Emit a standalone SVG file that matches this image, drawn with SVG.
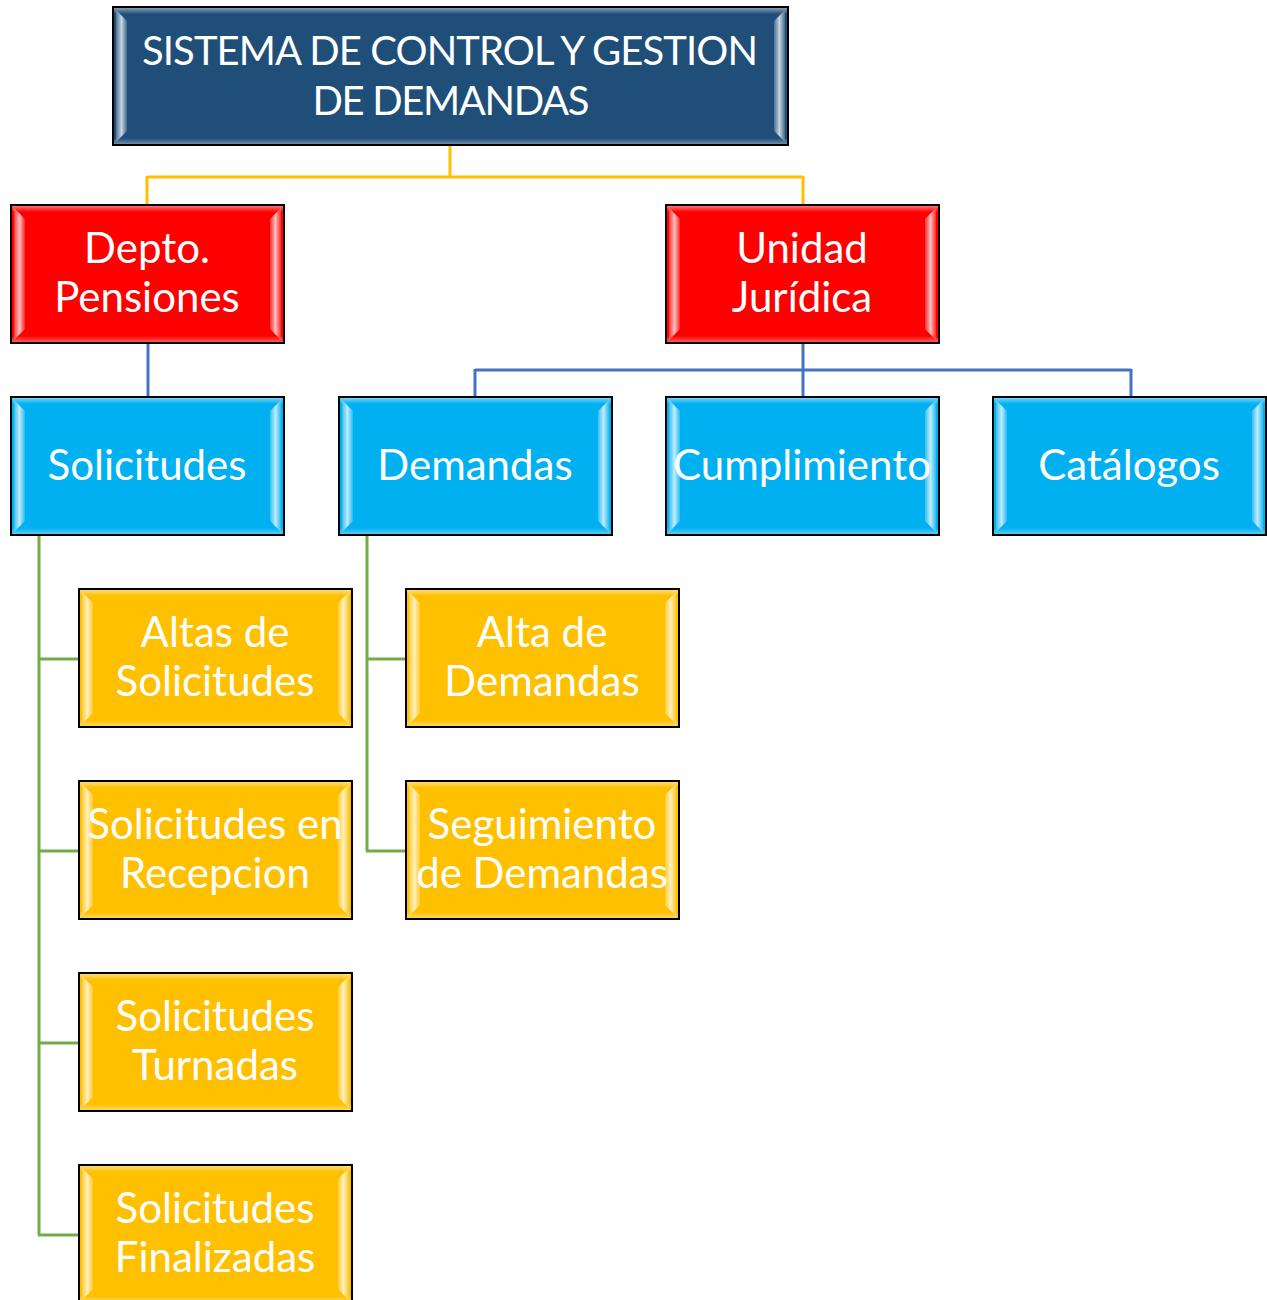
<svg xmlns="http://www.w3.org/2000/svg" width="1267" height="1300" viewBox="0 0 1267 1300">
<style>
.box{stroke:#000;stroke-width:2}
.navy{fill:#1F4E79}.red{fill:#FF0000}.blue{fill:#00B0F0}.yel{fill:#FFC000}
.t{font-family:Lato,"Open Sans","Liberation Sans",sans-serif;font-size:42px;fill:#fff;text-anchor:middle}
.tt{font-size:40px}
.c{fill:none;stroke-width:3}
</style>
<defs>
<linearGradient id="lg" x1="0" x2="1" y1="0" y2="0"><stop offset="0" stop-color="#fff" stop-opacity="0.2"/><stop offset="0.5" stop-color="#fff" stop-opacity="0.75"/><stop offset="1" stop-color="#fff" stop-opacity="0.15"/></linearGradient>
<linearGradient id="tg" x1="0" x2="0" y1="0" y2="1"><stop offset="0" stop-color="#fff" stop-opacity="0.45"/><stop offset="1" stop-color="#fff" stop-opacity="0"/></linearGradient>
<linearGradient id="bg" x1="0" x2="0" y1="0" y2="1"><stop offset="0" stop-color="#fff" stop-opacity="0"/><stop offset="1" stop-color="#fff" stop-opacity="0.35"/></linearGradient>
<g id="bevel">
<rect class="box" x="0" y="0" width="273" height="138" fill="none"/>
<rect x="1" y="1" width="271" height="6" fill="url(#tg)"/>
<rect x="1" y="131" width="271" height="6" fill="url(#bg)"/>
<polygon points="3,3 14,14 14,124 3,135" fill="url(#lg)"/>
<polygon points="270,3 259,14 259,124 270,135" fill="url(#lg)"/>
</g>
</defs>
<g id="connectors">
<path class="c" stroke="#FFC000" d="M450,145 V177 M147,177 H803 M147,176 V205 M803,176 V205"/>
<path class="c" stroke="#4472C4" d="M148,343 V397 M803,343 V397 M475,370 H1131 M475,369 V397 M1131,369 V397"/>
<path class="c" stroke="#70AD47" d="M39,535 V1235 M38,659 H79 M38,851 H79 M38,1043 H79 M38,1235 H79 M367,535 V851 M366,659 H406 M366,851 H406"/>
</g>
<g id="root">
<rect class="box navy" x="113" y="7" width="675" height="138"/>
<rect x="114" y="8" width="673" height="6" fill="url(#tg)"/>
<rect x="114" y="138" width="673" height="6" fill="url(#bg)"/>
<polygon points="116,10 127,21 127,131 116,142" fill="url(#lg)"/>
<polygon points="785,10 774,21 774,131 785,142" fill="url(#lg)"/>
<text class="t tt" x="450" y="65" textLength="616" lengthAdjust="spacing">SISTEMA DE CONTROL Y GESTION</text>
<text class="t tt" x="451" y="115" textLength="277" lengthAdjust="spacing">DE DEMANDAS</text>
</g>
<g id="depto"><rect class="box red" x="11" y="205" width="273" height="138"/><use href="#bevel" x="11" y="205"/>
<text class="t" x="147" y="263">Depto.</text><text class="t" x="147" y="312">Pensiones</text></g>
<g id="unidad"><rect class="box red" x="666" y="205" width="273" height="138"/><use href="#bevel" x="666" y="205"/>
<text class="t" x="802" y="263">Unidad</text><text class="t" x="802" y="312">Jurídica</text></g>
<g id="solicitudes"><rect class="box blue" x="11" y="397" width="273" height="138"/><use href="#bevel" x="11" y="397"/>
<text class="t" x="147" y="480">Solicitudes</text></g>
<g id="demandas"><rect class="box blue" x="339" y="397" width="273" height="138"/><use href="#bevel" x="339" y="397"/>
<text class="t" x="475" y="480">Demandas</text></g>
<g id="cumplimiento"><rect class="box blue" x="666" y="397" width="273" height="138"/><use href="#bevel" x="666" y="397"/>
<text class="t" x="802" y="480">Cumplimiento</text></g>
<g id="catalogos"><rect class="box blue" x="993" y="397" width="273" height="138"/><use href="#bevel" x="993" y="397"/>
<text class="t" x="1129" y="480">Catálogos</text></g>
<g id="altas"><rect class="box yel" x="79" y="589" width="273" height="138"/><use href="#bevel" x="79" y="589"/>
<text class="t" x="215" y="647">Altas de</text><text class="t" x="215" y="696">Solicitudes</text></g>
<g id="recepcion"><rect class="box yel" x="79" y="781" width="273" height="138"/><use href="#bevel" x="79" y="781"/>
<text class="t" x="215" y="839">Solicitudes en</text><text class="t" x="215" y="888">Recepcion</text></g>
<g id="turnadas"><rect class="box yel" x="79" y="973" width="273" height="138"/><use href="#bevel" x="79" y="973"/>
<text class="t" x="215" y="1031">Solicitudes</text><text class="t" x="215" y="1080">Turnadas</text></g>
<g id="finalizadas"><rect class="box yel" x="79" y="1165" width="273" height="138"/><use href="#bevel" x="79" y="1165"/>
<text class="t" x="215" y="1223">Solicitudes</text><text class="t" x="215" y="1272">Finalizadas</text></g>
<g id="alta-demandas"><rect class="box yel" x="406" y="589" width="273" height="138"/><use href="#bevel" x="406" y="589"/>
<text class="t" x="542" y="647">Alta de</text><text class="t" x="542" y="696">Demandas</text></g>
<g id="seguimiento"><rect class="box yel" x="406" y="781" width="273" height="138"/><use href="#bevel" x="406" y="781"/>
<text class="t" x="542" y="839">Seguimiento</text><text class="t" x="542" y="888">de Demandas</text></g>
</svg>
